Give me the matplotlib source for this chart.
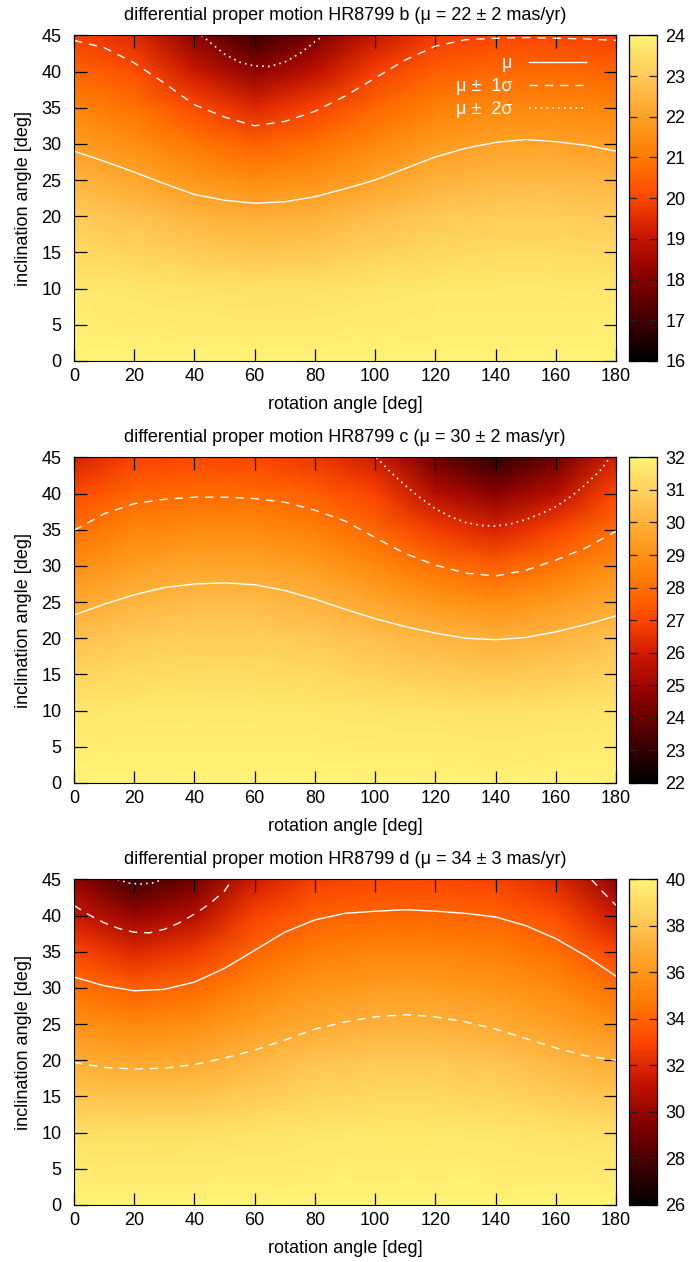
import numpy as np
import matplotlib
matplotlib.use("Agg")
import matplotlib.pyplot as plt
from matplotlib.colors import LinearSegmentedColormap

plt.rcParams['font.family'] = ['Liberation Sans', 'DejaVu Sans']
plt.rcParams['font.size'] = 13

# grid of the maps
ROT = [0, 20, 40, 60, 80, 100, 120, 140, 160, 180]
INC = [0, 10, 20, 25, 30, 35, 40, 45]

MU_B = [
    [24.00, 24.00, 24.00, 24.00, 24.00, 24.00, 24.00, 24.00, 24.00, 24.00],
    [23.74, 23.69, 23.60, 23.56, 23.59, 23.66, 23.73, 23.76, 23.76, 23.74],
    [23.00, 22.79, 22.47, 22.30, 22.43, 22.69, 22.95, 23.07, 23.08, 23.00],
    [22.48, 22.15, 21.72, 21.46, 21.65, 22.00, 22.40, 22.59, 22.60, 22.48],
    [21.88, 21.53, 20.94, 20.51, 20.82, 21.35, 21.79, 22.02, 22.03, 21.88],
    [21.26, 20.87, 20.07, 19.41, 19.91, 20.63, 21.16, 21.37, 21.38, 21.26],
    [20.59, 20.17, 19.10, 18.18, 18.88, 19.86, 20.48, 20.67, 20.68, 20.59],
    [19.90, 19.45, 18.10, 16.90, 17.83, 19.07, 19.79, 19.94, 19.94, 19.90],
]
MU_C = [
    [32.00, 32.00, 32.00, 32.00, 32.00, 32.00, 32.00, 32.00, 32.00, 32.00],
    [31.61, 31.69, 31.72, 31.71, 31.67, 31.59, 31.52, 31.47, 31.53, 31.61],
    [30.49, 30.78, 30.90, 30.90, 30.73, 30.43, 30.13, 29.96, 30.16, 30.49],
    [29.73, 30.14, 30.32, 30.31, 30.06, 29.63, 29.15, 28.88, 29.24, 29.73],
    [28.90, 29.41, 29.62, 29.60, 29.31, 28.75, 28.02, 27.61, 28.17, 28.90],
    [27.98, 28.61, 28.79, 28.76, 28.47, 27.81, 26.77, 26.16, 26.89, 27.98],
    [27.05, 27.75, 27.91, 27.87, 27.59, 26.92, 25.44, 24.61, 25.49, 27.05],
    [26.10, 26.87, 27.00, 26.95, 26.68, 26.00, 24.07, 22.90, 24.05, 26.10],
]
MU_D = [
    [40.00, 40.00, 40.00, 40.00, 40.00, 40.00, 40.00, 40.00, 40.00, 40.00],
    [39.20, 39.13, 39.18, 39.33, 39.47, 39.53, 39.53, 39.47, 39.34, 39.20],
    [36.94, 36.72, 36.87, 37.39, 37.93, 38.17, 38.17, 37.93, 37.43, 36.94],
    [35.78, 35.39, 35.65, 36.34, 36.88, 37.21, 37.21, 36.89, 36.43, 35.78],
    [34.43, 33.85, 34.24, 35.28, 35.97, 36.25, 36.25, 36.00, 35.47, 34.43],
    [32.98, 32.01, 32.59, 34.10, 34.96, 35.23, 35.23, 35.01, 34.40, 32.98],
    [31.44, 29.94, 30.82, 32.87, 33.89, 34.13, 34.13, 33.96, 33.23, 31.44],
    [29.86, 27.71, 29.00, 31.60, 32.78, 33.01, 33.00, 32.88, 32.00, 29.86],
]

# contour lines (rotation, inclination)
LROT = [0, 10, 20, 30, 40, 50, 60, 70, 80, 90, 100, 110, 120, 130, 140, 150, 160, 170, 180]

B_MU = [29.0, 27.6, 26.1, 24.5, 23.0, 22.2, 21.8, 22.0, 22.7, 23.8, 25.0, 26.6, 28.2, 29.4, 30.2, 30.6, 30.3, 29.8, 29.0]
B_1S = [44.3, 43.3, 41.2, 38.4, 35.4, 33.7, 32.5, 33.1, 34.5, 36.6, 39.1, 41.6, 43.5, 44.4, 44.6, 44.7, 44.6, 44.5, 44.3]
B_2S_ROT = [42.3, 45, 50, 55, 60, 65, 70, 75, 80, 82.9]
B_2S = [45.0, 44.1, 42.4, 41.3, 40.75, 40.7, 41.3, 42.5, 44.1, 45.0]

C_MU = [23.2, 24.7, 26.0, 27.0, 27.5, 27.65, 27.4, 26.6, 25.4, 24.0, 22.7, 21.6, 20.7, 20.0, 19.8, 20.1, 20.9, 21.9, 23.1]
C_1S = [34.9, 37.2, 38.6, 39.2, 39.5, 39.5, 39.3, 38.8, 37.7, 36.2, 33.9, 31.7, 30.1, 29.0, 28.6, 29.4, 30.8, 32.5, 34.8]
C_2S_ROT = [100.4, 105, 110, 115, 120, 125, 130, 135, 140, 145, 150, 155, 160, 165, 170, 175, 178]
C_2S = [45.0, 43.0, 41.1, 39.4, 37.9, 36.8, 36.0, 35.6, 35.5, 35.8, 36.4, 37.2, 38.2, 39.6, 41.3, 43.3, 45.0]

D_MU = [31.5, 30.3, 29.6, 29.8, 30.8, 32.7, 35.2, 37.7, 39.4, 40.3, 40.6, 40.8, 40.6, 40.3, 39.8, 38.6, 36.8, 34.4, 31.6]
D_1S_LO = [19.7, 19.0, 18.8, 18.9, 19.4, 20.3, 21.4, 22.8, 24.3, 25.3, 26.0, 26.3, 26.0, 25.3, 24.3, 23.0, 21.7, 20.6, 20.0]
D_1S_HI_ROT = [0, 5, 10, 15, 20, 25, 30, 35, 40, 45, 50, 52.6]
D_1S_HI = [41.4, 40.1, 39.0, 38.2, 37.7, 37.6, 38.1, 39.0, 40.2, 41.6, 43.4, 45.0]
D_1S_HI2_ROT = [171.8, 175, 180]
D_1S_HI2 = [45.0, 43.5, 41.4]
D_2S_ROT = [14.5, 18, 22, 26, 29.6]
D_2S = [45.0, 44.5, 44.35, 44.5, 45.0]

TITLES = [
    'differential proper motion HR8799 b (μ = 22 ± 2 mas/yr)',
    'differential proper motion HR8799 c (μ = 30 ± 2 mas/yr)',
    'differential proper motion HR8799 d (μ = 34 ± 3 mas/yr)',
]

cmap = LinearSegmentedColormap.from_list('gp', [
    (0.0, '#000000'), (0.125, '#420000'), (0.25, '#840000'),
    (0.375, '#c41200'), (0.5, '#ff4600'), (0.625, '#ff7a00'),
    (0.75, '#ffa126'), (0.875, '#ffc957'), (1.0, '#fff275')])

fig = plt.figure(figsize=(6.97, 12.62), dpi=100)

panels = [
    (MU_B, 16, 24, 1, [(LROT, B_MU, '-'), (LROT, B_1S, '--'), (B_2S_ROT, B_2S, ':')]),
    (MU_C, 22, 32, 1, [(LROT, C_MU, '-'), (LROT, C_1S, '--'), (C_2S_ROT, C_2S, ':')]),
    (MU_D, 26, 40, 2, [(LROT, D_MU, '-'), (LROT, D_1S_LO, '--'),
                       (D_1S_HI_ROT, D_1S_HI, '--'), (D_1S_HI2_ROT, D_1S_HI2, '--'),
                       (D_2S_ROT, D_2S, ':')]),
]
bottoms = [0.714, 0.3796, 0.0452]

for k, (mu, vmin, vmax, cstep, lines) in enumerate(panels):
    ax = fig.add_axes([0.106, bottoms[k], 0.778, 0.258])
    cax = fig.add_axes([0.9025, bottoms[k], 0.04, 0.258])
    m = ax.pcolormesh(ROT, INC, np.array(mu), shading='gouraud', cmap=cmap,
                      vmin=vmin, vmax=vmax)
    handles = {}
    for x, y, ls in lines:
        if ls == '--':
            h, = ax.plot(x, y, color='white', lw=1.0, dashes=(6, 5))
        elif ls == ':':
            h, = ax.plot(x, y, color='white', lw=1.2, dashes=(1, 2.5))
        else:
            h, = ax.plot(x, y, color='white', lw=1.0)
        handles.setdefault(ls, h)
    ax.set_xlim(0, 180)
    ax.set_ylim(0, 45)
    ax.set_xticks(range(0, 181, 20))
    ax.set_yticks(range(0, 46, 5))
    ax.tick_params(direction='in', top=True, right=True, length=9, width=0.9)
    ax.tick_params(axis='y', pad=9)
    ax.tick_params(axis='x', pad=5)
    ax.set_xlabel('rotation angle [deg]', labelpad=8)
    ax.set_ylabel('inclination angle [deg]', labelpad=7)
    ax.set_title(TITLES[k], fontsize=13, pad=11)
    if k == 0:
        leg = ax.legend([handles['-'], handles['--'], handles[':']],
                        ['μ', 'μ ±  1σ', 'μ ±  2σ'], loc='upper right',
                        bbox_to_anchor=(0.975, 0.99), frameon=False,
                        markerfirst=False, labelcolor='white',
                        handlelength=3.2, handletextpad=0.9, labelspacing=0.35,
                        fontsize=13)
    cb = fig.colorbar(m, cax=cax, ticks=np.arange(vmin, vmax + 0.1, cstep))
    cb.outline.set_linewidth(0.9)
    cax.tick_params(direction='in', left=True, right=True, length=6,
                    width=0.9, color='#222222', pad=6)

fig.savefig('out.png', dpi=100)
